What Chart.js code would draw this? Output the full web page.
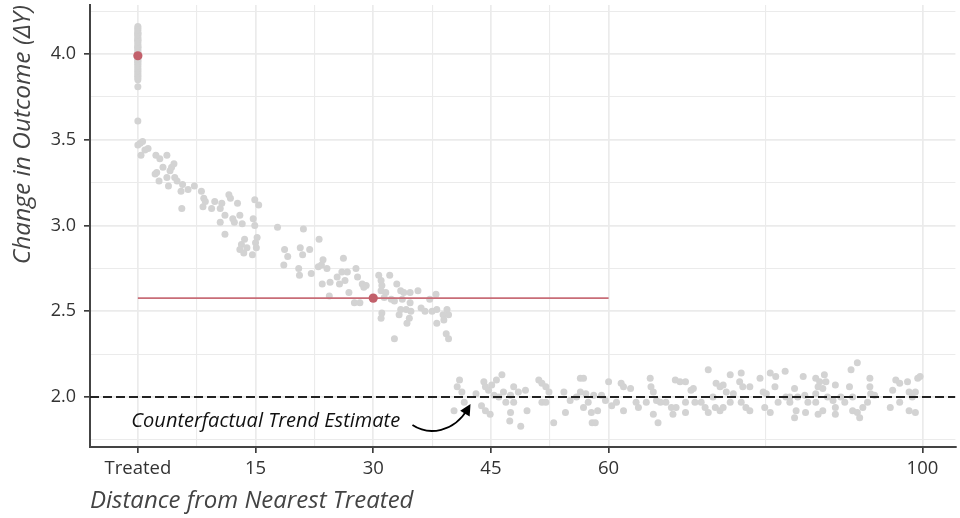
<!DOCTYPE html>
<html><head><meta charset="utf-8">
<script src="https://cdn.jsdelivr.net/npm/chart.js@4.4.1/dist/chart.umd.min.js"></script>
<style>html,body{margin:0;padding:0;background:#fff}#wrap{width:960px;height:518px}</style>
</head><body><div id="wrap"><canvas id="c" width="960" height="518"></canvas></div>
<script>
// ---------- DATA ----------
const treatedValues = [4.16,4.15,4.14,4.13,4.12,4.12,4.11,4.10,4.09,4.08,4.08,4.07,4.06,4.05,4.04,4.04,4.03,4.02,4.01,4.00,4.00,3.99,3.98,3.97,3.96,3.96,3.95,3.94,3.93,3.92,3.91,3.90,3.89,3.88,3.87,3.86,3.85,3.81,3.61];
const spilloverPoints = [
[0.3,3.48],[0.6,3.49],[0,3.47],[1.3,3.45],[0.4,3.41],[0.9,3.44],[2.3,3.41],[2.8,3.39],[3.7,3.41],[3.2,3.34],
[2.4,3.31],[2.2,3.30],[4.3,3.34],[4.6,3.36],[4.1,3.32],[3.7,3.28],[4.7,3.28],[2.7,3.26],[5.0,3.26],[3.9,3.23],
[5.7,3.24],[5.5,3.20],[6.4,3.21],[7.2,3.23],[8.1,3.20],[8.4,3.16],[8.6,3.14],[9.8,3.14],[8.3,3.11],[9.4,3.10],
[10.7,3.13],[10.5,3.10],[5.6,3.10],[11.6,3.18],[11.8,3.16],[12.7,3.13],[11.1,3.06],[10.5,3.02],[12.1,3.04],[12.3,3.02],
[13.0,3.06],[13.3,3.01],[11.1,2.95],[14.9,3.15],[15.4,3.12],[14.7,3.04],[14.9,3.00],[15.2,2.93],[15.0,2.90],[13.6,2.92],
[13.2,2.89],[15.1,2.87],[13.9,2.87],[13.0,2.86],[13.5,2.84],[14.6,2.83],[17.8,2.99],[18.7,2.86],[19.1,2.82],[21.1,2.98],
[18.6,2.77],[20.7,2.87],[21.0,2.83],[21.9,2.86],[23.1,2.92],[23.6,2.80],[23.0,2.76],[24.1,2.75],[20.5,2.75],[20.6,2.71],
[22.1,2.72],[23.5,2.66],[24.5,2.67],[24.4,2.59],[25.4,2.70],[23.4,2.77],[26.2,2.81],[26.0,2.73],[26.7,2.73],[26.4,2.68],
[25.7,2.66],[27.8,2.75],[28.0,2.70],[28.6,2.66],[29.1,2.65],[26.9,2.61],[27.6,2.55],[28.3,2.55],[28.8,2.64],[30.7,2.71],
[31.0,2.68],[31.1,2.65],[32.1,2.71],[31.0,2.62],[31.6,2.61],[31.4,2.58],[32.3,2.57],[33.0,2.66],[33.5,2.62],[33.9,2.61],
[34.7,2.61],[35.7,2.62],[32.7,2.56],[33.7,2.57],[34.7,2.55],[31.1,2.49],[31.0,2.46],[33.5,2.51],[33.3,2.48],[34.2,2.51],
[34.8,2.50],[34.6,2.46],[34.3,2.43],[36.1,2.52],[36.6,2.50],[37.2,2.57],[38.0,2.60],[37.5,2.50],[38.1,2.51],[38.9,2.48],
[39.4,2.51],[39.6,2.48],[38.1,2.43],[39.0,2.45],[39.3,2.37],[39.6,2.34],[32.7,2.34]
];
const controlPoints = [
[41.0,2.10],[40.7,2.06],[41.3,2.03],[40.3,1.92],[41.6,1.97],[43.1,2.02],[44.1,2.09],[44.3,2.06],[44.7,2.04],[45.1,2.07],
[45.7,2.10],[46.4,2.13],[46.0,2.00],[43.8,1.95],[44.3,1.92],[44.9,1.90],[45.4,2.01],[46.6,2.03],[47.5,2.01],[47.9,2.06],
[48.5,2.03],[49.4,2.04],[46.9,1.97],[47.5,1.91],[47.4,1.86],[48.8,1.83],[49.6,1.92],[47.9,1.97],[51.1,2.10],[51.5,2.08],
[52.0,2.06],[52.4,2.03],[51.5,1.97],[52.0,1.97],[53.0,1.85],[54.3,2.03],[54.5,1.91],[55.1,1.98],[55.9,2.00],[56.4,2.11],
[56.8,2.11],[56.4,2.03],[57.1,2.02],[56.8,1.94],[57.4,1.97],[57.8,1.91],[57.9,1.85],[58.3,1.85],[58.1,2.01],[59.1,2.01],
[59.6,1.98],[60.0,2.09],[60.4,1.95],[58.6,1.92],[61.6,2.08],[61.9,2.06],[62.8,2.05],[61.0,1.97],[61.9,1.92],[63.5,1.97],
[63.8,1.94],[64.8,1.97],[65.3,2.11],[65.4,2.06],[65.7,2.03],[66.1,1.98],[66.6,1.97],[65.7,1.90],[66.3,1.85],[67.3,1.97],
[68.5,2.10],[69.1,2.09],[69.8,2.09],[68.0,1.94],[68.6,1.94],[68.2,1.90],[69.8,1.91],[69.8,1.97],[70.5,2.04],[70.8,2.05],
[71.0,1.97],[71.8,1.97],[72.3,1.94],[72.7,2.16],[72.7,1.91],[73.3,2.00],[73.7,2.08],[74.2,2.06],[74.6,2.07],[75.0,2.03],
[73.6,1.94],[74.2,1.92],[74.6,1.94],[75.5,1.97],[75.5,2.13],[75.9,2.02],[76.9,2.14],[76.7,2.09],[77.1,2.06],[78.0,2.06],
[76.9,1.97],[77.5,1.94],[78.0,1.92],[79.3,2.11],[79.7,2.03],[80.1,2.02],[79.9,1.94],[80.6,1.91],[80.6,2.14],[81.3,2.12],
[81.2,2.06],[81.6,1.97],[82.5,2.15],[82.6,2.00],[83.7,2.05],[83.1,2.00],[83.1,1.97],[84.1,2.00],[85.0,2.01],[84.8,2.12],
[83.9,1.92],[83.7,1.88],[85.1,1.91],[85.4,1.97],[86.4,2.11],[86.9,2.09],[87.5,2.13],[87.7,2.09],[86.7,2.06],[86.4,2.02],
[87.3,2.05],[87.9,2.00],[86.4,1.97],[87.3,1.92],[86.7,1.90],[88.9,2.07],[88.6,1.98],[88.9,1.94],[88.9,1.90],[89.6,2.00],
[90.1,1.97],[90.7,2.06],[90.9,2.16],[91.7,2.20],[91.1,2.00],[91.1,1.92],[91.7,1.91],[92.0,1.88],[92.4,1.94],[93.0,1.97],
[93.3,2.11],[93.3,2.06],[93.4,2.02],[93.9,2.01],[95.9,1.94],[96.2,2.04],[96.6,2.10],[97.1,2.08],[97.1,1.97],[98.1,2.09],
[98.3,2.03],[98.7,2.00],[98.3,1.92],[99.1,2.03],[99.4,2.11],[99.7,2.12],[99.1,1.91]
];
const treatedMean = [0, 3.99];
const spilloverMean = [30, 2.577];
const spilloverRange = [0, 60];
const counterfactualLevel = 2.0;
const annotationText = 'Counterfactual Trend Estimate';

const xMajorTicks = [0, 15, 30, 45, 60, 100];
const xTickLabels = ['Treated', '15', '30', '45', '60', '100'];
const xMinorTicks = [7.5, 22.5, 37.5, 52.5, 80];
const yMajorTicks = [2.0, 2.5, 3.0, 3.5, 4.0];
const yTickLabels = ['2.0', '2.5', '3.0', '3.5', '4.0'];
const yMinorTicks = [1.75, 2.25, 2.75, 3.25, 3.75, 4.25];

// ---------- CHART ----------
const X_MIN = -6.1, X_MAX = 104.2, Y_MIN = 1.709, Y_MAX = 4.286;
const FONT = "'Open Sans', 'Noto Sans', sans-serif";
Chart.defaults.font.family = FONT;

const gray = '#D3D3D3';
const red = '#C2606B';

const annotPlugin = {
  id: 'annot',
  afterDatasetsDraw(chart) {
    const {ctx, scales: {x, y}} = chart;
    ctx.save();
    ctx.font = 'italic 20px ' + FONT;
    ctx.fillStyle = '#111';
    ctx.textAlign = 'center';
    ctx.textBaseline = 'middle';
    ctx.fillText(annotationText, x.getPixelForValue(16.3), y.getPixelForValue(1.856));
    const p0 = [x.getPixelForValue(35.0), y.getPixelForValue(1.837)];
    const c1 = [x.getPixelForValue(37.1), y.getPixelForValue(1.773)];
    const c2 = [x.getPixelForValue(40.3), y.getPixelForValue(1.796)];
    const p1 = [x.getPixelForValue(42.4), y.getPixelForValue(1.959)];
    ctx.strokeStyle = '#000';
    ctx.lineWidth = 1.8;
    ctx.beginPath();
    ctx.moveTo(p0[0], p0[1]);
    ctx.bezierCurveTo(c1[0], c1[1], c2[0], c2[1], p1[0] - 3, p1[1] + 5);
    ctx.stroke();
    const ang = Math.atan2(p1[1] - c2[1], p1[0] - c2[0]);
    const L = 11, W = 5.5;
    ctx.fillStyle = '#000';
    ctx.beginPath();
    ctx.moveTo(p1[0], p1[1]);
    ctx.lineTo(p1[0] - L * Math.cos(ang) + W * Math.sin(ang), p1[1] - L * Math.sin(ang) - W * Math.cos(ang));
    ctx.lineTo(p1[0] - L * Math.cos(ang) - W * Math.sin(ang), p1[1] - L * Math.sin(ang) + W * Math.cos(ang));
    ctx.closePath();
    ctx.fill();
    ctx.restore();
  }
};

function gridOpts(majors) {
  return {
    color: '#EBEBEB',
    lineWidth: c => (c.tick && majors.includes(c.tick.value)) ? 1.7 : 1.1,
    tickLength: 6,
    tickWidth: 1.6,
    tickColor: c => (c.tick && majors.includes(c.tick.value)) ? '#333' : 'rgba(0,0,0,0)'
  };
}

new Chart(document.getElementById('c'), {
  type: 'scatter',
  data: {
    datasets: [
      {
        label: 'gray', order: 5,
        data: [...treatedValues.map(v => ({x: 0, y: v})),
               ...spilloverPoints.map(p => ({x: p[0], y: p[1]})),
               ...controlPoints.map(p => ({x: p[0], y: p[1]}))],
        backgroundColor: gray, borderWidth: 0, pointRadius: 3.5
      },
      {
        label: 'spillover mean line', type: 'line', order: 3,
        data: spilloverRange.map(v => ({x: v, y: spilloverMean[1]})),
        borderColor: '#C86D77', borderWidth: 1.8, pointRadius: 0, fill: false
      },
      {
        label: 'counterfactual', type: 'line', order: 2,
        data: [{x: X_MIN, y: counterfactualLevel}, {x: X_MAX, y: counterfactualLevel}],
        borderColor: '#222', borderWidth: 2, borderDash: [9, 4], pointRadius: 0, fill: false
      },
      {
        label: 'means', order: 1,
        data: [{x: treatedMean[0], y: treatedMean[1]}, {x: spilloverMean[0], y: spilloverMean[1]}],
        backgroundColor: red, borderWidth: 0, pointRadius: 4.6
      }
    ]
  },
  options: {
    responsive: false, animation: false, devicePixelRatio: 1,
    layout: {padding: {top: 5, right: 2, left: 0, bottom: 0}},
    plugins: {legend: {display: false}, tooltip: {enabled: false}},
    scales: {
      x: {
        type: 'linear', min: X_MIN, max: X_MAX,
        afterBuildTicks: s => { s.ticks = [...xMajorTicks, ...xMinorTicks].sort((a, b) => a - b).map(v => ({value: v})); },
        afterFit: s => { s.height = 71; s.paddingLeft = 0; s.paddingRight = 0; },
        ticks: {
          autoSkip: false, maxRotation: 0, padding: 5, color: '#333',
          font: {size: 18.5},
          callback: v => { const i = xMajorTicks.indexOf(v); return i >= 0 ? xTickLabels[i] : ''; }
        },
        grid: gridOpts(xMajorTicks),
        border: {display: true, color: '#444', width: 2},
        title: {display: true, text: 'Distance from Nearest Treated', align: 'start', color: '#444',
                font: {size: 24, style: 'italic'}, padding: {top: 0, bottom: 2}}
      },
      y: {
        type: 'linear', min: Y_MIN, max: Y_MAX,
        afterBuildTicks: s => { s.ticks = [...yMajorTicks, ...yMinorTicks].sort((a, b) => a - b).map(v => ({value: v})); },
        afterFit: s => { s.width = 90; s.paddingTop = 0; s.paddingBottom = 0; },
        ticks: {
          autoSkip: false, padding: 8, color: '#333',
          font: {size: 18},
          callback: v => { const i = yMajorTicks.indexOf(v); return i >= 0 ? yTickLabels[i] : ''; }
        },
        grid: gridOpts(yMajorTicks),
        border: {display: true, color: '#444', width: 2},
        title: {display: true, text: 'Change in Outcome (ΔY)', align: 'end', color: '#444',
                font: {size: 24.5, style: 'italic'}, padding: {top: 8, bottom: 0}}
      }
    }
  },
  plugins: [annotPlugin]
});
</script></body></html>
